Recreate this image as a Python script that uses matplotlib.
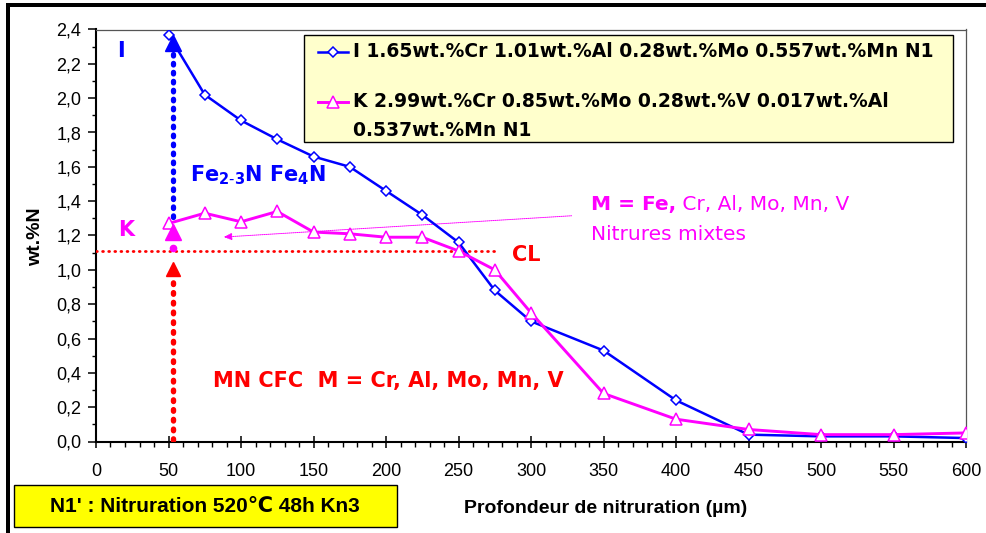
import matplotlib
matplotlib.use('Agg')
import matplotlib.pyplot as plt
from matplotlib.patches import Rectangle
from matplotlib.lines import Line2D
from matplotlib.ticker import MultipleLocator, FuncFormatter

# ---------------- data ----------------
depth = [50, 75, 100, 125, 150, 175, 200, 225, 250, 275, 300, 350, 400, 450, 500, 550, 600]
wtN_I = [2.37, 2.02, 1.87, 1.76, 1.66, 1.60, 1.46, 1.32, 1.16, 0.88, 0.70, 0.53, 0.24, 0.04, 0.03, 0.03, 0.02]
wtN_K = [1.27, 1.33, 1.28, 1.34, 1.22, 1.21, 1.19, 1.19, 1.11, 1.00, 0.75, 0.28, 0.13, 0.07, 0.04, 0.04, 0.05]

label_I = "I 1.65wt.%Cr 1.01wt.%Al 0.28wt.%Mo 0.557wt.%Mn N1"
label_K_line1 = "K 2.99wt.%Cr 0.85wt.%Mo 0.28wt.%V 0.017wt.%Al"
label_K_line2 = "0.537wt.%Mn N1"
x_label = "Profondeur de nitruration (µm)"
y_label = "wt.%N"
box_text = "N1' : Nitruration 520\u2103 48h Kn3"

x_ticks = [0, 50, 100, 150, 200, 250, 300, 350, 400, 450, 500, 550, 600]
y_ticks = [0.0, 0.2, 0.4, 0.6, 0.8, 1.0, 1.2, 1.4, 1.6, 1.8, 2.0, 2.2, 2.4]

CL_level = 1.11          # critical level line
CL_end = 277             # end of CL dotted line (µm)
arrow_x = 53             # vertical arrows position (µm)

BLUE = '#0000FF'
MAG = '#FF00FF'
RED = '#FF0000'

# ---------------- figure ----------------
W, H = 987, 533
fig = plt.figure(figsize=(W / 100, H / 100), dpi=100)
fig.patch.set_facecolor('white')


def fx(px):
    return px / W


def fy(py):
    return 1 - py / H


ax = fig.add_axes([fx(96), fy(441.5), (966 - 96) / W, (441.5 - 29.5) / H])
ax.set_xlim(0, 600)
ax.set_ylim(0, 2.4)

# data lines
ax.plot(depth, wtN_I, color=BLUE, lw=1.8, marker='D', markersize=5.0,
        markerfacecolor='white', markeredgecolor=BLUE, markeredgewidth=1.1, zorder=4)
ax.plot(depth, wtN_K, color=MAG, lw=2.1, marker='^', markersize=8,
        markerfacecolor='white', markeredgecolor=MAG, markeredgewidth=1.1, zorder=5)

# CL dotted horizontal line
ax.plot([0, CL_end], [CL_level, CL_level], color=RED, lw=2.0,
        linestyle=(0, (0.3, 1.9)), dash_capstyle='round', zorder=3)

# vertical dotted arrows
ax.plot([arrow_x, arrow_x], [1.31, 2.26], color=BLUE, lw=3.8,
        linestyle=(0, (0.3, 1.4)), dash_capstyle='round', zorder=3)
ax.plot([arrow_x], [2.32], marker='^', markersize=11.5, color=BLUE, zorder=6)

ax.plot([arrow_x, arrow_x], [0.01, 0.95], color=RED, lw=3.9,
        linestyle=(0, (0.3, 1.5)), dash_capstyle='round', zorder=3)
ax.plot([arrow_x], [1.005], marker='^', markersize=10.5, color=RED, zorder=6)

ax.plot([arrow_x], [1.128], marker='o', markersize=4.5, color=MAG, zorder=6)
ax.plot([arrow_x], [1.218], marker='^', markersize=11, color=MAG, zorder=6)

# thin magenta arrow
ax.annotate('', xy=(88, 1.191), xytext=(328, 1.315),
            arrowprops=dict(arrowstyle='-|>,head_length=0.5,head_width=0.22',
                            color=MAG, lw=0.7, linestyle=(0, (1, 1)),
                            shrinkA=0, shrinkB=0), zorder=3)

# annotation texts
ax.text(17.5, 2.274, "I", color=BLUE, fontsize=15, fontweight='bold',
        family='DejaVu Sans', ha='center', va='center')
ax.text(21, 1.23, "K", color=MAG, fontsize=15, fontweight='bold',
        family='DejaVu Sans', ha='center', va='center')
ax.text(64.8, 1.513, r"$\mathbf{Fe_{2\text{-}3}N\ Fe_{4}N}$", color=BLUE, fontsize=15,
        family='DejaVu Sans', ha='left', va='baseline')
ax.text(80.5, 0.319, "MN CFC  M = Cr, Al, Mo, Mn, V", color=RED, fontsize=15,
        fontweight='bold', family='DejaVu Sans', ha='left', va='baseline')
ax.text(286.9, 1.052, "CL", color=RED, fontsize=15, fontweight='bold',
        family='DejaVu Sans', ha='left', va='baseline')
t1 = ax.text(341.2, 1.35, "M = Fe,", color=MAG, fontsize=14.5, fontweight='bold',
             family='DejaVu Sans', ha='left', va='baseline')
ax.annotate(" Cr, Al, Mo, Mn, V", xy=(1, 0), xycoords=t1, xytext=(0, 0),
            textcoords='offset points', color=MAG, fontsize=14.5,
            family='DejaVu Sans', ha='left', va='bottom')
ax.text(341.2, 1.175, "Nitrures mixtes", color=MAG, fontsize=14.5,
        family='DejaVu Sans', ha='left', va='baseline')

# axes styling
for s in ['left', 'bottom']:
    ax.spines[s].set_linewidth(1.5)
    ax.spines[s].set_color('black')
for s in ['top', 'right']:
    ax.spines[s].set_linewidth(0.9)
    ax.spines[s].set_color('#555555')

ax.set_xticks(x_ticks)
ax.set_yticks(y_ticks)
ax.xaxis.set_minor_locator(MultipleLocator(10))
ax.yaxis.set_minor_locator(MultipleLocator(0.1))
ax.yaxis.set_major_formatter(FuncFormatter(lambda v, p: f"{v:.1f}".replace('.', ',')))
ax.xaxis.set_major_formatter(FuncFormatter(lambda v, p: f"{int(round(v))}"))

ax.tick_params(axis='x', which='major', direction='inout', length=9, width=1.1,
               pad=11.0, labelsize=13)
ax.tick_params(axis='x', which='minor', direction='out', length=3.5, width=1.0)
ax.tick_params(axis='y', which='major', direction='out', length=6, width=1.1,
               pad=4.5, labelsize=13)
ax.tick_params(axis='y', which='minor', direction='out', length=3, width=1.0)
for lab in ax.get_xticklabels() + ax.get_yticklabels():
    lab.set_family('Liberation Sans')

# axis labels
fig.text(fx(36), fy(236.5), y_label, rotation=90, fontsize=14, fontweight='bold',
         family='Liberation Sans', ha='center', va='center')
fig.text(fx(605.5), fy(512.7), x_label, fontsize=14, fontweight='bold',
         family='Liberation Sans', ha='center', va='baseline')

# legend box (manual)
fig.add_artist(Rectangle((fx(304), fy(141.7)), (953 - 304) / W, (141.7 - 35) / H,
                         transform=fig.transFigure, facecolor='#FFFFCC',
                         edgecolor='black', lw=1.0, zorder=10))
fig.add_artist(Line2D([fx(318), fx(348)], [fy(51.7), fy(51.7)], color=BLUE, lw=1.8,
                      transform=fig.transFigure, zorder=11))
fig.add_artist(Line2D([fx(333)], [fy(51.7)], marker='D', markersize=5.0,
                      markerfacecolor='white', markeredgecolor=BLUE, markeredgewidth=1.1,
                      transform=fig.transFigure, zorder=12))
fig.add_artist(Line2D([fx(318), fx(348)], [fy(101.7), fy(101.7)], color=MAG, lw=2.1,
                      transform=fig.transFigure, zorder=11))
fig.add_artist(Line2D([fx(333)], [fy(101.7)], marker='^', markersize=8,
                      markerfacecolor='white', markeredgecolor=MAG, markeredgewidth=1.1,
                      transform=fig.transFigure, zorder=12))
leg_kw = dict(fontsize=13.5, fontweight='bold', family='DejaVu Sans',
              ha='left', va='center', zorder=13)
fig.text(fx(353), fy(51.7), label_I, **leg_kw)
fig.text(fx(353), fy(101.7), label_K_line1, **leg_kw)
fig.text(fx(353), fy(130), label_K_line2, **leg_kw)

# yellow info box
fig.add_artist(Rectangle((fx(14), fy(527)), (397 - 14) / W, (527 - 485) / H,
                         transform=fig.transFigure, facecolor='#FFFF00',
                         edgecolor='black', lw=1.0, zorder=10))
fig.text(fx(205), fy(506), box_text, fontsize=15, fontweight='bold',
         family=['Liberation Sans', 'DejaVu Sans'], ha='center', va='center', zorder=13)

# outer frame (top & left edges)
fig.add_artist(Rectangle((fx(6), fy(7)), 1 - fx(6), 4 / H, transform=fig.transFigure,
                         facecolor='black', edgecolor='none', zorder=20))
fig.add_artist(Rectangle((fx(6), 0), 4 / W, fy(7), transform=fig.transFigure,
                         facecolor='black', edgecolor='none', zorder=20))

fig.savefig('out.png', dpi=100)
